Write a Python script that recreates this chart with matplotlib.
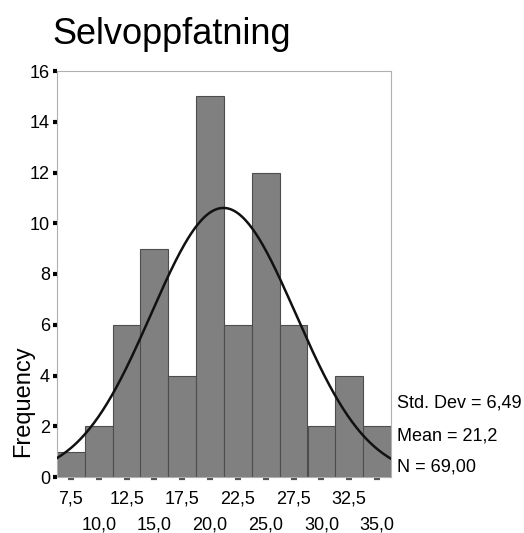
import matplotlib
matplotlib.use('Agg')
import matplotlib.pyplot as plt
import numpy as np

plt.rcParams['font.family'] = ['Liberation Sans', 'DejaVu Sans']

# Histogram data
bin_centers = [7.5, 10.0, 12.5, 15.0, 17.5, 20.0, 22.5, 25.0, 27.5, 30.0, 32.5, 35.0]
frequencies = [1, 2, 6, 9, 4, 15, 6, 12, 6, 2, 4, 2]
std_dev = 6.49
mean = 21.2
n_total = 69
bin_width = 2.5

fig = plt.figure(figsize=(5.24, 5.33), dpi=100)
ax = fig.add_axes([57/524, 1 - 477/533, (391-57)/524, (477-71)/533])

ax.bar(bin_centers, frequencies, width=bin_width, color='#808080',
       edgecolor='#4d4d4d', linewidth=0.8, zorder=2)

# Normal curve scaled to counts
xs = np.linspace(6.25, 36.25, 300)
ys = n_total * bin_width / (std_dev * np.sqrt(2 * np.pi)) * np.exp(-0.5 * ((xs - mean) / std_dev) ** 2)
ax.plot(xs, ys, color='#111111', linewidth=1.8, zorder=3)

ax.set_xlim(6.25, 36.25)
ax.set_ylim(0, 16)

for s in ax.spines.values():
    s.set_color('#b0b0b0')
    s.set_linewidth(0.8)

ax.set_yticks(range(0, 17, 2))
ax.tick_params(axis='y', direction='out', length=3, width=3, color='black',
               labelsize=13, pad=2)
ax.set_xticks([])

# small dash marks under each bin, SPSS style
ax.plot(bin_centers, [-0.006] * len(bin_centers), linestyle='none', marker='_',
        markersize=5, markeredgewidth=1.6, color='#555555',
        transform=ax.get_xaxis_transform(), clip_on=False)

# two-row x labels
for i, c in enumerate(bin_centers):
    label = f'{c:.1f}'.replace('.', ',')
    y = -0.053 if i % 2 == 0 else -0.117
    ax.text(c, y, label, transform=ax.get_xaxis_transform(), ha='center',
            va='center', fontsize=13)

ax.set_ylabel('Frequency', fontsize=17, va='center')
ax.yaxis.set_label_coords(-0.102, 0.187)

stats = ['Std. Dev = ' + f'{std_dev:.2f}'.replace('.', ','),
         'Mean = ' + f'{mean:.1f}'.replace('.', ','),
         'N = ' + f'{n_total:.2f}'.replace('.', ',')]
stat_y = [403, 436, 467]
for t, yp in zip(stats, stat_y):
    fig.text(397/524, 1 - yp/533, t, ha='left', va='center', fontsize=13)

fig.text(52/524, 1 - 35/533, 'Selvoppfatning', ha='left', va='center', fontsize=26)

fig.savefig('out.png', dpi=100)
